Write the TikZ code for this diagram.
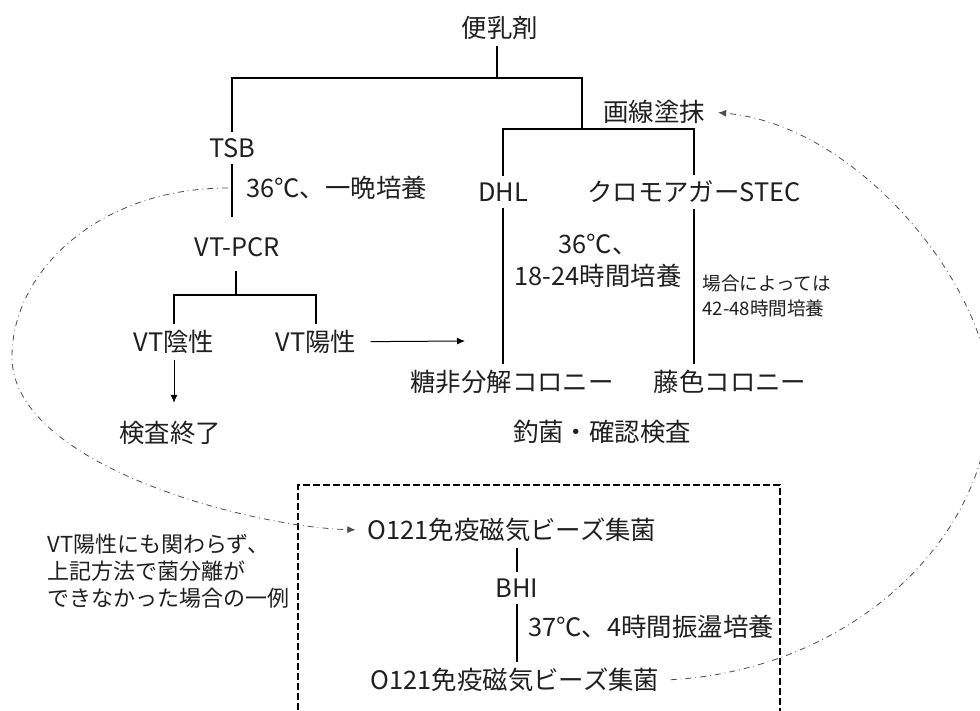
\documentclass[tikz,border=0pt]{standalone}
\usepackage{fontspec}
\newfontfamily\jpfont{Noto Sans CJK JP}
\usetikzlibrary{arrows.meta}
\tikzset{
  lbl/.style={font=\jpfont\fontsize{12.7}{16}\selectfont, inner sep=3pt, text=black!88},
  note/.style={font=\jpfont\fontsize{9.3}{12.5}\selectfont, inner sep=3pt, align=left, anchor=west, text=black!88},
  branch/.style={line width=1pt},
  thinline/.style={line width=0.6pt},
  arr/.style={line width=0.5pt, -{Latex[length=4pt,width=3.5pt]}},
  backarrow/.style={line width=0.4pt, draw=black!70, dash dot, -{Latex[length=4pt,width=3.5pt]}},
  boxline/.style={line width=0.6pt, dash pattern=on 3.5pt off 1.5pt},
}
\begin{document}
\begin{tikzpicture}[x=0.5pt,y=-0.5pt]
            \useasboundingbox (0,0) rectangle (980,711);
            \clip (0,0) rectangle (980,711);
            \node[lbl] (benyu) at (500,28) {便乳剤};
            \node[lbl] (tsb) at (232,148) {TSB};
            \node[lbl,anchor=west] (tsbcond) at (240,188) {36℃、一晩培養};
            \node[lbl] (vtpcr) at (237,247) {VT-PCR};
            \node[lbl] (vtneg) at (174,342) {VT陰性};
            \node[lbl] (vtpos) at (316,342) {VT陽性};
            \node[lbl] (kensa) at (170,433) {検査終了};
            \node[lbl] (streak) at (654,112) {画線塗抹};
            \node[lbl] (dhl) at (503,192) {DHL};
            \node[lbl] (stec) at (694,192) {クロモアガーSTEC};
            \node[lbl,align=center] (dhlcond) at (598,261) {36℃、\\18-24時間培養};
            \node[note] (steccond) at (696,296) {場合によっては\\42-48時間培養};
            \node[lbl] (tohi) at (512,382) {糖非分解コロニー};
            \node[lbl] (fuji) at (730,382) {藤色コロニー};
            \node[lbl] (confirm) at (602,432) {釣菌・確認検査};
            \node[lbl] (beads1) at (512,530) {O121免疫磁気ビーズ集菌};
            \node[lbl] (bhi) at (517,588) {BHI};
            \node[lbl,anchor=west] (bhicond) at (522,627) {37℃、4時間振盪培養};
            \node[lbl] (beads2) at (515,680) {O121免疫磁気ビーズ集菌};
            \node[lbl,align=left,anchor=west,font=\jpfont\fontsize{11}{13.5}\selectfont] (example) at (41,571)
              {VT陽性にも関わらず、\\上記方法で菌分離が\\できなかった場合の一例};
            \coordinate (split1) at (497,78);
            \coordinate (split2) at (582,129);
            \coordinate (split3) at (236,295);
            \coordinate (posend) at (465,341);
            \coordinate (loopstart) at (228,188);
            \draw[branch] (benyu.south -| split1) -- (split1);
            \draw[branch] (tsb) |- (split1) -| (split2);
            \draw[branch] (dhl) |- (split2) -| (stec);
            \draw[branch,shorten >=7pt] (tsb) -- (tsb |- vtpcr.north);
            \draw[branch,shorten <=4pt] (vtpcr.south -| split3) -- (split3);
            \draw[branch] (vtneg) |- (split3) -| (vtpos);
            \draw[arr,shorten >=6pt] (vtneg) -- (vtneg |- kensa.north);
            \draw[arr,shorten <=4pt] (vtpos) -- (posend);
            \draw[thinline] (dhl) -- (dhl |- tohi.north);
            \draw[thinline] (stec) -- (stec |- fuji.north);
            \draw[thinline] (bhi |- beads1.south) -- (bhi);
            \draw[thinline] (bhi) -- (bhi |- beads2.north);
            \draw[boxline] (298,740) |- (780,485) -- (780,740);
            \draw[backarrow,shorten >=3pt] (loopstart) .. controls (100,188) and (12,270) .. (12,357)
              .. controls (12,465) and (250,527) .. (beads1.west);
            \draw[backarrow,shorten <=2.5pt,shorten >=3.5pt] (beads2.east) .. controls (850,670) and (990,540) .. (990,395)
              .. controls (990,290) and (860,125) .. (streak.east);
        \end{tikzpicture}
\end{document}
